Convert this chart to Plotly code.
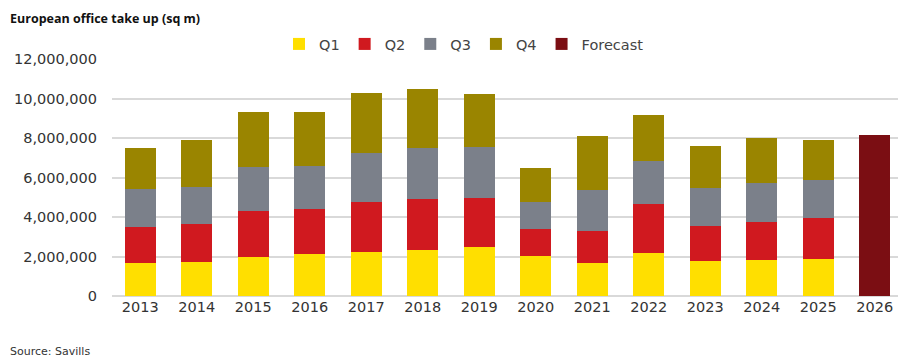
import plotly.graph_objects as go

years = ["2013", "2014", "2015", "2016", "2017", "2018", "2019", "2020",
         "2021", "2022", "2023", "2024", "2025", "2026"]
q1 = [1.65, 1.71, 1.99, 2.11, 2.21, 2.31, 2.46, 2.04, 1.65, 2.16, 1.79, 1.82, 1.87, 0]
q2 = [1.84, 1.94, 2.30, 2.31, 2.57, 2.58, 2.49, 1.37, 1.66, 2.51, 1.77, 1.91, 2.08, 0]
q3 = [1.91, 1.85, 2.26, 2.18, 2.46, 2.59, 2.58, 1.33, 2.04, 2.18, 1.89, 2.01, 1.92, 0]
q4 = [2.08, 2.40, 2.75, 2.73, 3.05, 2.98, 2.70, 1.76, 2.74, 2.31, 2.16, 2.26, 2.03, 0]
forecast = [None] * 13 + [8.15]

tick_vals = [0, 2000000, 4000000, 6000000, 8000000, 10000000, 12000000]
tick_text = ["0", "2,000,000", "4,000,000", "6,000,000", "8,000,000", "10,000,000", "12,000,000"]

FONT = "DejaVu Sans"
series = [
    ("Q1", q1, "#FFDF00"),
    ("Q2", q2, "#D0191F"),
    ("Q3", q3, "#7B808A"),
    ("Q4", q4, "#9A8500"),
    ("Forecast", forecast, "#7B0E13"),
]

fig = go.Figure()
for name, vals, col in series:
    fig.add_trace(go.Bar(
        x=years,
        y=[None if v is None else v * 1e6 for v in vals],
        name=name,
        marker=dict(color=col, line=dict(width=0)),
    ))

# page has an 8px body margin, so figure coords = page coords - 8
FW, FH = 898, 356
L, T = 104, 51
R_EDGE, B_EDGE = 895, 288
W, H = R_EDGE - L, B_EDGE - T

fig.update_layout(
    barmode="stack",
    bargap=0.45,
    width=FW, height=FH,
    margin=dict(l=L, r=FW - R_EDGE, t=T, b=FH - B_EDGE, autoexpand=False),
    plot_bgcolor="white", paper_bgcolor="white",
    font=dict(family=FONT, color="#333333", size=14.5),
    showlegend=True,
    legend=dict(orientation="h", xref="container", yref="container",
                x=456 / FW, xanchor="center", y=1 - 36 / FH, yanchor="middle",
                font=dict(size=14.5, color="#444444"), itemwidth=30,
                traceorder="normal"),
    xaxis=dict(showgrid=False, ticks="", tickfont=dict(size=14.5, color="#333333"),
               showline=False),
    yaxis=dict(range=[0, 12000000], tickvals=tick_vals, ticktext=tick_text,
               showgrid=True, gridcolor="#D9D9D9", gridwidth=1.5,
               zeroline=True, zerolinecolor="#D9D9D9", zerolinewidth=1.5,
               tickfont=dict(size=14.5, color="#333333"), ticks="",
               ticklabelstandoff=14),
    annotations=[
        dict(text="<b>European office take up (sq m)</b>", xref="paper", yref="paper",
             x=(0 - L) / W, y=1 + (T - 10) / H, showarrow=False,
             xanchor="left", yanchor="middle",
             font=dict(size=12.5, color="#111111", family="Open Sans")),
        dict(text="Source: Savills", xref="paper", yref="paper",
             x=(0 - L) / W, y=-(343 - B_EDGE) / H, showarrow=False,
             xanchor="left", yanchor="middle",
             font=dict(size=11, color="#333333", family=FONT)),
    ],
)

fig.write_html("out.html")
